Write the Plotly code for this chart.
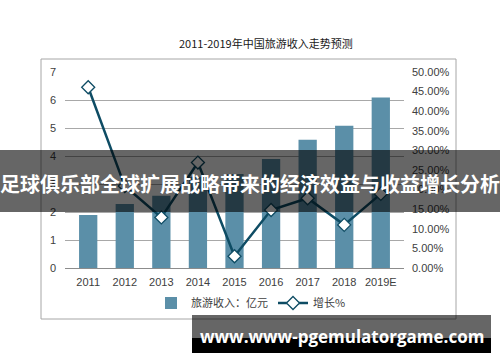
import plotly.graph_objects as go

years = ["2011", "2012", "2013", "2014", "2015", "2016", "2017", "2018", "2019E"]
revenue = [1.89, 2.29, 2.58, 3.26, 3.36, 3.89, 4.58, 5.08, 6.09]
growth = [0.461, 0.209, 0.129, 0.269, 0.030, 0.148, 0.178, 0.110, 0.189]
bar_name = "旅游收入：亿元"
line_name = "增长%"
title_text = "2011-2019年中国旅游收入走势预测"
banner_text = "足球俱乐部全球扩展战略带来的经济效益与收益增长分析"
watermark_text = "www.www-pgemulatorgame.com"

W, H = 500, 362
L, R, T, B = 65, 404, 72, 268  # plot area in pixels


def px(xp):
    return (xp - L) / (R - L)


def py(yp):
    return (B - yp) / (B - T)


FONT = "Liberation Sans, Arial, Noto Sans CJK SC, sans-serif"
CJK = "Noto Sans CJK SC, sans-serif"

fig = go.Figure()
fig.add_trace(go.Bar(
    x=years, y=revenue, name=bar_name,
    marker=dict(color="#5B8FA8", line=dict(width=0)),
    yaxis="y",
))
fig.add_trace(go.Scatter(
    x=years, y=growth, name=line_name, mode="lines+markers",
    line=dict(color="#0E4C64", width=2.5),
    marker=dict(symbol="diamond", size=10, color="white",
                line=dict(color="#0E4C64", width=1.3)),
    yaxis="y2",
))

fig.update_layout(
    template="none",
    width=W, height=H,
    margin=dict(l=L, r=W - R, t=T, b=H - B, pad=0, autoexpand=False),
    paper_bgcolor="white", plot_bgcolor="white",
    bargap=0.5,
    font=dict(family=FONT, size=11, color="#404040"),
    showlegend=True,
    legend=dict(orientation="h", x=px(251), xanchor="center",
                y=py(303), yanchor="middle",
                font=dict(family=CJK, size=11, color="#404040"),
                bgcolor="rgba(0,0,0,0)", itemwidth=30,
                tracegroupgap=0),
    xaxis=dict(type="category", automargin=False, showgrid=False, showline=True,
               linecolor="#8c8c8c", linewidth=1,
               ticks="", tickfont=dict(size=11, color="#404040"),
               ticklabelstandoff=4),
    yaxis=dict(automargin=False, range=[0, 7], dtick=1, showgrid=True,
               gridcolor="#a8a8a8", gridwidth=1, zeroline=False, ticks="",
               showline=False, tickfont=dict(size=11, color="#404040"),
               ticklabelstandoff=8),
    yaxis2=dict(automargin=False, range=[0, 0.5], dtick=0.05, tickformat=".2%",
                overlaying="y", side="right", showgrid=False, zeroline=False,
                ticks="", showline=False,
                tickfont=dict(size=11, color="#404040"), ticklabelstandoff=7),
)

shapes = []
# outer chart frame
shapes.append(dict(type="rect", xref="paper", yref="paper",
                   x0=px(41), x1=px(456), y0=py(319), y1=py(59),
                   line=dict(color="#a6a6a6", width=1), fillcolor="rgba(0,0,0,0)",
                   layer="below"))
# banner overlay
shapes.append(dict(type="rect", xref="paper", yref="paper",
                   x0=px(-2), x1=px(502), y0=py(212), y1=py(150),
                   line=dict(width=0), fillcolor="rgba(0,0,0,0.6)", layer="above"))
# watermark boxes
shapes.append(dict(type="rect", xref="paper", yref="paper",
                   x0=px(192), x1=px(491), y0=py(338), y1=py(315),
                   line=dict(width=0), fillcolor="rgba(0,0,0,0.6)", layer="above"))
shapes.append(dict(type="rect", xref="paper", yref="paper",
                   x0=px(192), x1=px(491), y0=py(353), y1=py(338),
                   line=dict(width=0), fillcolor="black", layer="above"))
fig.update_layout(shapes=shapes)

annotations = [
    dict(text=title_text, xref="paper", yref="paper", x=px(265.5), y=py(42.5),
         xanchor="center", yanchor="middle", showarrow=False,
         font=dict(family=CJK, size=11, color="#1a1a1a")),
    dict(text="<b>" + banner_text + "</b>", xref="paper", yref="paper",
         x=px(250), y=py(183), xanchor="center", yanchor="middle",
         showarrow=False, font=dict(family=CJK, size=20, color="white")),
    dict(text="<b>" + watermark_text + "</b>", xref="paper", yref="paper",
         x=px(341.5), y=py(336), xanchor="center", yanchor="middle",
         showarrow=False, font=dict(family="Open Sans, sans-serif", size=17,
                                    color="white")),
]
fig.update_layout(annotations=annotations)

fig.write_html("out.html",
               config={"displayModeBar": False},
               post_script="document.body.style.margin='0';"
                           "document.body.style.overflow='hidden';")
